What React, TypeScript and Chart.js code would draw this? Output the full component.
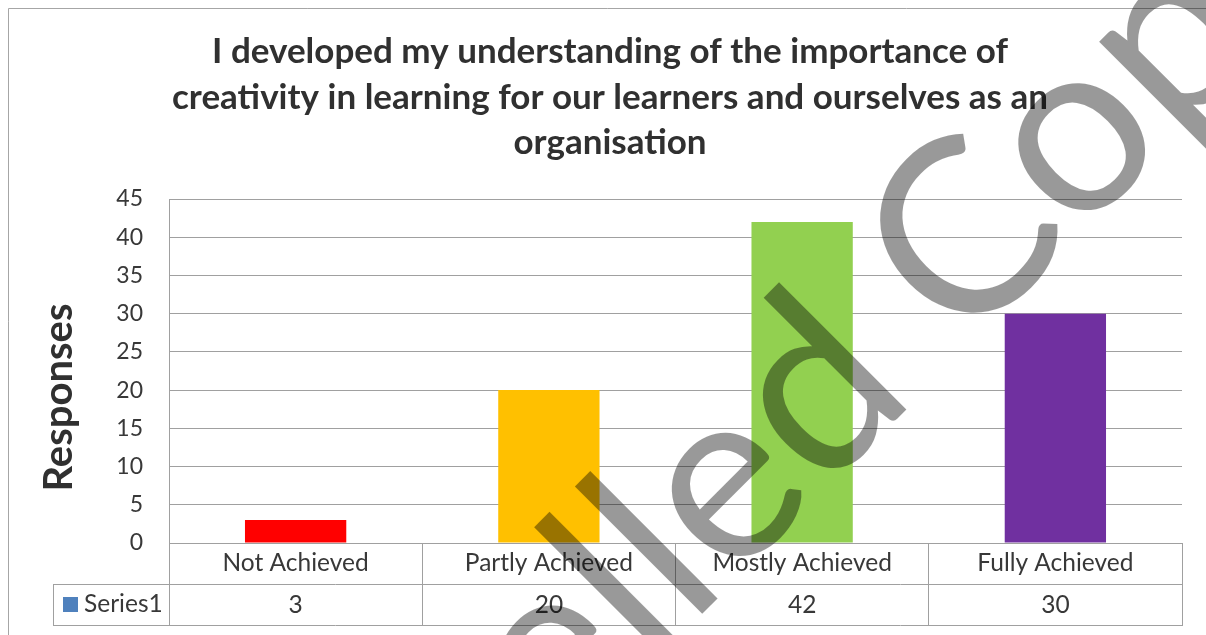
import React, { useEffect, useRef } from 'react';
import { Chart, registerables } from 'chart.js';

Chart.register(...registerables);

// ---- data ----
const titleLines = [
  'I developed my understanding of the importance of',
  'creativity in learning for our learners and ourselves as an',
  'organisation',
];
const yAxisTitle = 'Responses';
const categories = ['Not Achieved', 'Partly Achieved', 'Mostly Achieved', 'Fully Achieved'];
const seriesName = 'Series1';
const seriesValues = [3, 20, 42, 30];
const barColors = ['#FF0000', '#FFC000', '#92D050', '#7030A0'];
const legendColor = '#4F81BD';
const yMin = 0;
const yMax = 45;
const yStep = 5;
const watermarkText = 'Cancelled Copy';

// ---- styles ----
const FONT = 'Lato, "Open Sans", sans-serif';
const GRID = '#a0a0a0';
const TEXT = '#383838';
const TITLE = '#303030';

function hline(ctx: CanvasRenderingContext2D, x1: number, x2: number, y: number) {
  const yy = Math.round(y - 0.5) + 0.5;
  ctx.beginPath();
  ctx.moveTo(x1, yy);
  ctx.lineTo(x2, yy);
  ctx.stroke();
}
function vline(ctx: CanvasRenderingContext2D, x: number, y1: number, y2: number) {
  const xx = Math.round(x - 0.5) + 0.5;
  ctx.beginPath();
  ctx.moveTo(xx, y1);
  ctx.lineTo(xx, y2);
  ctx.stroke();
}

const decorPlugin = {
  id: 'decor',
  beforeDraw(chart: any) {
    const { ctx, width, height } = chart;
    ctx.save();
    ctx.fillStyle = '#ffffff';
    ctx.fillRect(0, 0, width, height);
    ctx.strokeStyle = '#a6a6a6';
    ctx.lineWidth = 1;
    ctx.beginPath();
    ctx.moveTo(8.5, height);
    ctx.lineTo(8.5, 8.5);
    ctx.lineTo(width, 8.5);
    ctx.stroke();
    ctx.restore();
  },
  afterDraw(chart: any) {
    const { ctx, chartArea: ca, scales } = chart;
    const xs = scales.x;
    ctx.save();

    // chart title
    ctx.fillStyle = TITLE;
    ctx.font = `700 35px ${FONT}`;
    ctx.textAlign = 'center';
    ctx.textBaseline = 'alphabetic';
    titleLines.forEach((t, i) => ctx.fillText(t, 610, 63 + i * 45.5));

    // y axis title
    ctx.save();
    ctx.translate(72, 397.5);
    ctx.rotate(-Math.PI / 2);
    ctx.font = `700 40px ${FONT}`;
    ctx.fillStyle = TITLE;
    ctx.textAlign = 'center';
    ctx.fillText(yAxisTitle, 0, 0);
    ctx.restore();

    // data table
    const row1Bot = ca.bottom + 41.5;
    const row2Bot = row1Bot + 41;
    const tableLeft = 53;
    const step = xs.getPixelForValue(1) - xs.getPixelForValue(0);
    ctx.strokeStyle = GRID;
    ctx.lineWidth = 1;
    hline(ctx, tableLeft, ca.right + 1, row1Bot);
    hline(ctx, tableLeft, ca.right + 1, row2Bot);
    vline(ctx, tableLeft, row1Bot, row2Bot + 0.5);
    for (let i = 0; i <= categories.length; i++) {
      const bx = xs.getPixelForValue(0) - step / 2 + i * step;
      vline(ctx, bx, ca.bottom, row2Bot + 0.5);
    }
    ctx.fillStyle = TEXT;
    ctx.font = `400 24.5px ${FONT}`;
    ctx.textAlign = 'center';
    categories.forEach((c, i) => {
      const cx = xs.getPixelForValue(i);
      ctx.fillText(c, cx, ca.bottom + 28);
      ctx.fillText(String(seriesValues[i]), cx, ca.bottom + 70);
    });
    ctx.fillStyle = legendColor;
    ctx.fillRect(63, 597, 15, 15);
    ctx.fillStyle = TEXT;
    ctx.textAlign = 'left';
    ctx.fillText(seriesName, 84, ca.bottom + 69);

    // watermark
    const base = 100;
    ctx.font = `400 ${base}px ${FONT}`;
    const pre = ctx.measureText('Cancel').width + ctx.measureText('l').width / 2;
    const preO = ctx.measureText('Cancelled C').width + ctx.measureText('o').width / 2;
    const k = (682 - 73.5) / (preO - pre);
    const F = base * k * 0.97;
    const s0 = 73.5 - pre * k * 0.97;
    const c = 1316;
    const ox = (c + s0 * Math.SQRT2) / 2;
    const oy = (c - s0 * Math.SQRT2) / 2;
    ctx.translate(ox, oy);
    ctx.rotate(-Math.PI / 4);
    ctx.font = `400 ${F}px ${FONT}`;
    ctx.fillStyle = 'rgba(0,0,0,0.4)';
    ctx.textAlign = 'left';
    ctx.textBaseline = 'alphabetic';
    ctx.fillText(watermarkText, 0, 0);

    ctx.restore();
  },
};

export default function App() {
  const ref = useRef<HTMLCanvasElement | null>(null);
  useEffect(() => {
    if (!ref.current) return;
    const chart = new Chart(ref.current, {
      type: 'bar',
      data: {
        labels: categories,
        datasets: [
          {
            label: seriesName,
            data: seriesValues,
            backgroundColor: barColors,
            borderWidth: 0,
            barPercentage: 0.4,
            categoryPercentage: 1,
          },
        ],
      },
      options: {
        responsive: false,
        animation: false,
        devicePixelRatio: 1,
        layout: { padding: { left: 0, right: 24, top: 199, bottom: 92 } },
        plugins: {
          legend: { display: false },
          title: { display: false },
          tooltip: { enabled: false },
        },
        scales: {
          x: { display: false, offset: true, grid: { display: false } },
          y: {
            min: yMin,
            max: yMax,
            ticks: {
              stepSize: yStep,
              color: TEXT,
              font: { family: FONT, size: 23 },
              padding: 26,
            },
            grid: { color: GRID, drawTicks: false, lineWidth: 1 },
            border: { display: true, color: GRID },
            afterFit: (s: any) => {
              s.width = 169;
            },
          },
        },
      },
      plugins: [decorPlugin],
    } as any);
    return () => chart.destroy();
  }, []);
  return (
    <div style={{ position: 'absolute', left: 0, top: 0, width: 1206, height: 635 }}>
      <canvas ref={ref} width={1206} height={635} style={{ display: 'block' }} />
    </div>
  );
}
